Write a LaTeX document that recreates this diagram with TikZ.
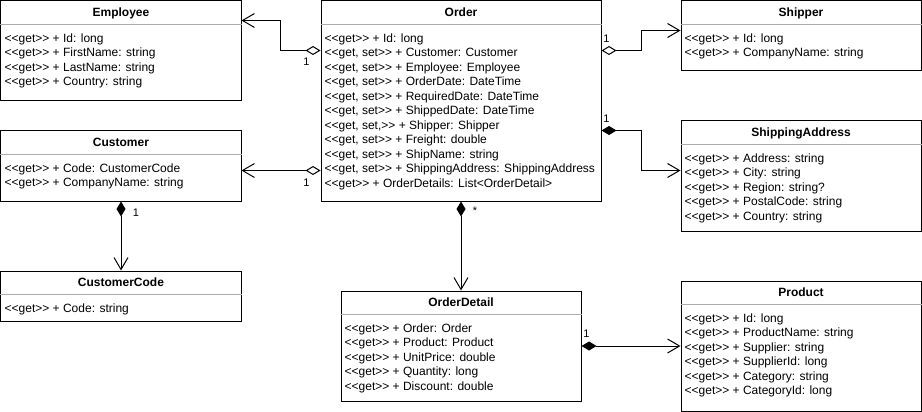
\documentclass[tikz,border=0pt]{standalone}
\usepackage{fontspec}
\setmainfont{Liberation Sans}[Ligatures=TeXOff]
\usetikzlibrary{arrows.meta}

\begin{document}
\begin{tikzpicture}[x=1pt, y=-1pt,
  cls/.style={draw, line width=1pt, anchor=north west, inner sep=0pt},
  ttl/.style={anchor=base, inner sep=0pt, font=\fontsize{12}{14.5}\selectfont\bfseries},
  attrs/.style={anchor=north west, align=left, inner sep=0pt, font=\fontsize{12}{14.5}\selectfont},
  sep/.style={draw=gray!65, line width=1pt},
  lbl/.style={inner sep=0pt, font=\fontsize{11}{13}\selectfont},
  agg/.style={line width=1pt, {Diamond[open, length=15pt, width=9pt]}-{Straight Barb[length=12pt, width=14pt]}},
  comp/.style={line width=1pt, {Diamond[length=15pt, width=9pt]}-{Straight Barb[length=12pt, width=14pt]}}]
  \useasboundingbox (-0.5,-0.5) rectangle (921.5,411.5);

  % classes
  \node[cls, minimum width=240pt, minimum height=100pt] (employee) at (0,0) {};
  \node[cls, minimum width=280pt, minimum height=200pt] (order) at (320,0) {};
  \node[cls, minimum width=240pt, minimum height=70pt] (shipper) at (680,0) {};
  \node[cls, minimum width=240pt, minimum height=110pt] (shippingaddress) at (680,120) {};
  \node[cls, minimum width=240pt, minimum height=70pt] (customer) at (0,130) {};
  \node[cls, minimum width=240pt, minimum height=50pt] (customercode) at (0,270) {};
  \node[cls, minimum width=240pt, minimum height=110pt] (orderdetail) at (340,290) {};
  \node[cls, minimum width=240pt, minimum height=130pt] (product) at (680,280) {};

  \foreach \c in {employee, order, shipper, shippingaddress, customer, customercode, orderdetail, product}
    \draw[sep] ([yshift=-24pt]\c.north west) -- ([yshift=-24pt]\c.north east);

  \node[ttl] (employee-title) at ([yshift=-16pt]employee.north) {Employee};
  \node[attrs] (employee-attrs) at ([shift={(4pt,-33pt)}]employee.north west)
    {<<get>> + Id: long\\ <<get>> + FirstName: string\\ <<get>> + LastName: string\\
     <<get>> + Country: string};

  \node[ttl] (order-title) at ([yshift=-16pt]order.north) {Order};
  \node[attrs] (order-attrs) at ([shift={(4pt,-33pt)}]order.north west)
    {<<get>> + Id: long\\ <<get, set>> + Customer: Customer\\ <<get, set>> + Employee: Employee\\
     <<get, set>> + OrderDate: DateTime\\ <<get, set>> + RequiredDate: DateTime\\
     <<get, set>> + ShippedDate: DateTime\\ <<get, set,>> + Shipper: Shipper\\
     <<get, set>> + Freight: double\\ <<get, set>> + ShipName: string\\
     <<get, set>> + ShippingAddress: ShippingAddress\\ <<get>> + OrderDetails: List<OrderDetail>};

  \node[ttl] (shipper-title) at ([yshift=-16pt]shipper.north) {Shipper};
  \node[attrs] (shipper-attrs) at ([shift={(4pt,-33pt)}]shipper.north west)
    {<<get>> + Id: long\\ <<get>> + CompanyName: string};

  \node[ttl] (shippingaddress-title) at ([yshift=-16pt]shippingaddress.north) {ShippingAddress};
  \node[attrs] (shippingaddress-attrs) at ([shift={(4pt,-33pt)}]shippingaddress.north west)
    {<<get>> + Address: string\\ <<get>> + City: string\\ <<get>> + Region: string?\\
     <<get>> + PostalCode: string\\ <<get>> + Country: string};

  \node[ttl] (customer-title) at ([yshift=-16pt]customer.north) {Customer};
  \node[attrs] (customer-attrs) at ([shift={(4pt,-33pt)}]customer.north west)
    {<<get>> + Code: CustomerCode\\ <<get>> + CompanyName: string};

  \node[ttl] (customercode-title) at ([yshift=-16pt]customercode.north) {CustomerCode};
  \node[attrs] (customercode-attrs) at ([shift={(4pt,-33pt)}]customercode.north west)
    {<<get>> + Code: string};

  \node[ttl] (orderdetail-title) at ([yshift=-16pt]orderdetail.north) {OrderDetail};
  \node[attrs] (orderdetail-attrs) at ([shift={(4pt,-33pt)}]orderdetail.north west)
    {<<get>> + Order: Order\\ <<get>> + Product: Product\\ <<get>> + UnitPrice: double\\
     <<get>> + Quantity: long\\ <<get>> + Discount: double};

  \node[ttl] (product-title) at ([yshift=-16pt]product.north) {Product};
  \node[attrs] (product-attrs) at ([shift={(4pt,-33pt)}]product.north west)
    {<<get>> + Id: long\\ <<get>> + ProductName: string\\ <<get>> + Supplier: string\\
     <<get>> + SupplierId: long\\ <<get>> + Category: string\\ <<get>> + CategoryId: long};

  % associations
  \draw[agg] ([yshift=-50pt]order.north west)
    -- node[lbl, at start, xshift=-14pt, yshift=-11pt] {1} ++(-40,0)
    |- ([yshift=-20pt]employee.north east);
  \draw[agg] ([yshift=-170pt]order.north west)
    -- node[lbl, at start, xshift=-14pt, yshift=-12pt] {1} ([yshift=-40pt]customer.north east);
  \draw[agg] ([yshift=-50pt]order.north east)
    -- node[lbl, at start, xshift=5pt, yshift=12pt] {1} ++(40,0)
    |- ([yshift=-30pt]shipper.north west);
  \draw[comp] ([yshift=-130pt]order.north east)
    -- node[lbl, at start, xshift=5pt, yshift=12pt] {1} ++(40,0)
    |- ([yshift=-50pt]shippingaddress.north west);
  \draw[comp] (customer.south)
    -- node[lbl, at start, xshift=15pt, yshift=-11pt] {1} (customercode.north);
  \draw[comp] (order.south)
    -- node[lbl, at start, xshift=14pt, yshift=-9pt] {*} (orderdetail.north);
  \draw[comp] (orderdetail.east)
    -- node[lbl, at start, xshift=5pt, yshift=12pt] {1} (product.west |- orderdetail.east);
\end{tikzpicture}
\end{document}
